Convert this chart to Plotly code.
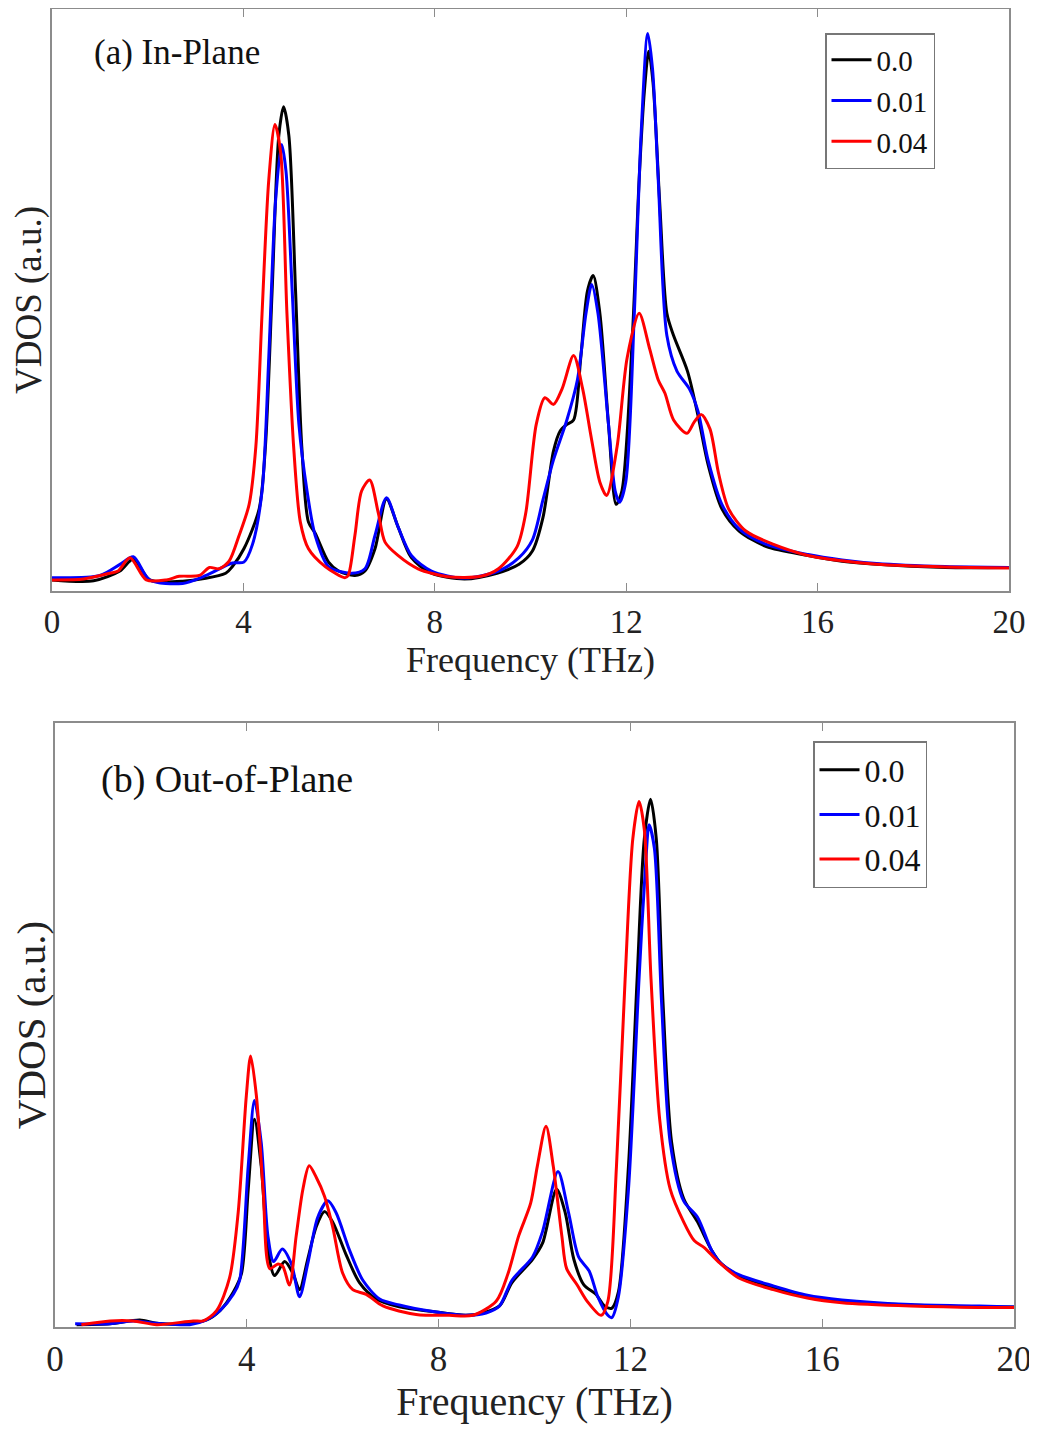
import plotly.graph_objects as go

# ---------------- Data: (a) In-Plane ----------------
a_f_00 = [0, 0.87, 1.42, 1.7, 2.04, 2.73, 3.63, 3.77, 4.01, 4.33, 4.46, 4.6, 4.74, 4.84, 4.95, 5.09, 5.22, 5.36,
          5.5, 5.78, 5.99, 6.33, 6.54, 6.75, 6.99, 7.23, 7.51, 7.93, 8.62, 9.3, 9.76, 10.04, 10.26, 10.48, 10.62,
          10.76, 10.9, 11.05, 11.19, 11.31, 11.45, 11.63, 11.79, 11.91, 12.13, 12.27, 12.38, 12.47, 12.56, 12.7,
          12.85, 12.99, 13.28, 13.5, 13.71, 14.0, 14.36, 14.93, 15.8, 16.51, 17.23, 18.67, 20]
a_v_00 = [25, 23, 45, 72, 25, 22, 40, 55, 95, 185, 325, 675, 1025, 1090, 1025, 675, 325, 155,
          130, 65, 45, 35, 45, 95, 207, 145, 75, 40, 27, 40, 60, 90, 165, 315, 360,
          375, 385, 525, 675, 710, 625, 375, 195, 225, 575, 925, 1125, 1215, 1145, 875,
          625, 575, 495, 395, 285, 185, 135, 100, 80, 67, 60, 53, 53]

a_f_01 = [0, 1.0, 1.42, 1.7, 2.04, 2.73, 3.22, 3.77, 4.01, 4.19, 4.39, 4.53, 4.67, 4.8, 4.89, 5.02, 5.16, 5.33,
          5.5, 5.78, 6.26, 6.54, 6.75, 6.99, 7.23, 7.51, 7.93, 8.62, 9.33, 9.76, 10.04, 10.26, 10.48, 10.76,
          10.98, 11.16, 11.28, 11.41, 11.63, 11.77, 11.86, 11.99, 12.17, 12.31, 12.45, 12.55, 12.67, 12.85,
          13.06, 13.32, 13.5, 13.71, 14.0, 14.36, 14.93, 15.8, 16.51, 17.23, 18.67, 20]
a_v_01 = [30, 35, 60, 77, 25, 17, 35, 63, 65, 105, 225, 525, 875, 1005, 945, 675, 375, 225,
          125, 55, 40, 50, 125, 210, 145, 80, 45, 29, 45, 75, 115, 205, 295, 385,
          475, 625, 690, 625, 375, 225, 200, 245, 625, 1025, 1255, 1175, 925, 575,
          495, 455, 405, 295, 195, 140, 105, 82, 70, 62, 55, 53]

a_f_04 = [0, 0.66, 1.21, 1.38, 1.63, 1.97, 2.39, 2.66, 3.08, 3.29, 3.49, 3.7, 3.91, 4.12, 4.26, 4.39, 4.53,
          4.66, 4.78, 4.91, 5.05, 5.19, 5.36, 5.71, 6.12, 6.19, 6.33, 6.47, 6.64, 6.82, 6.96, 7.23, 7.65, 8.27,
          8.96, 9.33, 9.72, 9.9, 10.12, 10.3, 10.48, 10.66, 10.9, 11.09, 11.27, 11.45, 11.59, 11.81, 12.02,
          12.27, 12.49, 12.67, 12.81, 12.99, 13.27, 13.42, 13.57, 13.75, 13.93, 14.14, 14.5, 15.08, 15.8,
          16.51, 17.23, 18.67, 20]
a_v_04 = [25, 27, 40, 45, 75, 25, 25, 33, 35, 53, 50, 67, 125, 195, 325, 625, 925,
          1050, 985, 625, 325, 155, 95, 55, 30, 35, 125, 225, 250, 175, 110, 80, 50, 32,
          33, 50, 100, 175, 375, 435, 420, 455, 530, 455, 345, 245, 215, 325, 525,
          625, 545, 475, 445, 385, 355, 380, 397, 365, 265, 185, 135, 105, 80,
          68, 60, 54, 52]

# ---------------- Data: (b) Out-of-Plane ----------------
b_f_00 = [0.45, 1.15, 1.77, 2.12, 2.74, 3.16, 3.44, 3.72, 3.89, 4.03, 4.16, 4.3, 4.44, 4.58, 4.79, 4.96, 5.1,
          5.27, 5.45, 5.62, 5.79, 6.07, 6.35, 6.7, 7.18, 7.88, 8.57, 8.92, 9.27, 9.53, 9.96, 10.17, 10.46,
          10.64, 10.82, 11.03, 11.28, 11.46, 11.61, 11.75, 11.96, 12.14, 12.29, 12.42, 12.54, 12.68, 12.86,
          13.11, 13.4, 13.69, 13.9, 14.26, 14.98, 15.69, 16.41, 17.85, 19.28, 20]
b_v_00 = [5, 7, 15, 8, 7, 15, 35, 75, 115, 295, 445, 345, 165, 110, 140, 115, 80,
          145, 215, 247, 225, 155, 95, 60, 43, 33, 25, 30, 45, 95, 145, 180, 295,
          245, 145, 90, 70, 45, 40, 75, 345, 745, 1045, 1130, 1045, 695, 395,
          275, 225, 165, 135, 110, 85, 65, 55, 47, 43, 43]

b_f_01 = [0.42, 1.15, 1.63, 2.12, 2.81, 3.16, 3.44, 3.72, 3.85, 4.03, 4.16, 4.3, 4.44, 4.56, 4.74, 4.93, 5.1,
          5.27, 5.48, 5.69, 5.86, 6.14, 6.42, 6.77, 7.18, 7.88, 8.57, 8.99, 9.27, 9.53, 9.96, 10.17, 10.49,
          10.71, 10.92, 11.14, 11.32, 11.53, 11.61, 11.75, 11.96, 12.18, 12.32, 12.39, 12.5, 12.65, 12.83,
          13.11, 13.4, 13.69, 13.9, 14.26, 14.98, 15.69, 16.41, 17.85, 19.28, 20]
b_v_01 = [7, 7, 13, 8, 5, 15, 35, 70, 100, 345, 485, 395, 195, 140, 167, 135, 65,
          135, 235, 270, 245, 165, 100, 60, 47, 33, 25, 30, 45, 100, 150, 205, 333,
          245, 150, 120, 65, 25, 20, 65, 295, 745, 995, 1075, 1025, 695, 395,
          270, 235, 165, 135, 112, 88, 68, 58, 48, 45, 43]

b_f_04 = [0.55, 1.15, 1.63, 2.12, 2.88, 3.09, 3.37, 3.64, 3.82, 3.99, 4.08, 4.2, 4.34, 4.48, 4.65, 4.75, 4.89,
          5.03, 5.17, 5.3, 5.45, 5.62, 5.79, 6.0, 6.21, 6.49, 6.84, 7.53, 8.22, 8.71, 9.2, 9.45, 9.67, 9.92,
          10.06, 10.24, 10.39, 10.57, 10.67, 10.89, 11.1, 11.39, 11.53, 11.71, 11.89, 12.05, 12.18, 12.29,
          12.43, 12.61, 12.83, 13.11, 13.33, 13.54, 13.83, 14.26, 14.98, 15.69, 16.41, 17.85, 19.28, 20]
b_v_04 = [5, 13, 13, 5, 13, 13, 35, 105, 245, 495, 580, 495, 295, 125, 135, 130, 90,
          195, 295, 345, 320, 280, 215, 115, 80, 70, 45, 27, 25, 25, 55, 115, 195, 265,
          345, 430, 345, 195, 125, 90, 55, 25, 55, 345, 745, 1045, 1125, 1065,
          745, 445, 295, 225, 185, 170, 140, 105, 80, 62, 52, 45, 42, 42]

series_names = ["0.0", "0.01", "0.04"]
series_colors = ["#000000", "#0000ff", "#ff0000"]
x_ticks = [0, 4, 8, 12, 16, 20]
panel_labels = ["(a) In-Plane", "(b) Out-of-Plane"]

# page has an 8px body margin; figure is sized/offset so the result matches the 1037x1431 target
OFF = 8
W, H = 1037 - OFF, 1431 - OFF
FONT = "Liberation Serif, Times New Roman, serif"


def px_x(p):
    return min(1.0, max(0.0, (p - OFF) / W))


def px_y(p):
    return min(1.0, max(0.0, 1 - (p - OFF) / H))


fig = go.Figure()

panel_a = [(a_f_00, a_v_00), (a_f_01, a_v_01), (a_f_04, a_v_04)]
panel_b = [(b_f_00, b_v_00), (b_f_01, b_v_01), (b_f_04, b_v_04)]

for (fx, fv), name, col in zip(panel_a, series_names, series_colors):
    fig.add_trace(go.Scatter(x=fx, y=fv, mode="lines", name=name, xaxis="x", yaxis="y",
                             line=dict(color=col, width=3, shape="spline", smoothing=0.8),
                             legend="legend"))
for (fx, fv), name, col in zip(panel_b, series_names, series_colors):
    fig.add_trace(go.Scatter(x=fx, y=fv, mode="lines", name=name, xaxis="x2", yaxis="y2",
                             line=dict(color=col, width=3, shape="spline", smoothing=0.8),
                             legend="legend2"))

axcol = "#8c8c8c"


def xax(domain, tick_size, title_size, lab_standoff, standoff):
    return dict(domain=domain, range=[0, 20], tickvals=x_ticks, ticks="inside", ticklen=8,
                tickcolor=axcol, showline=True, linecolor=axcol, linewidth=1.5, mirror="ticks",
                showgrid=False, zeroline=False, ticklabelstandoff=lab_standoff, automargin=False,
                tickfont=dict(family=FONT, size=tick_size, color="#222222"),
                title=dict(text="Frequency (THz)", font=dict(family=FONT, size=title_size, color="#222222"),
                           standoff=standoff))


def yax(domain, rng, title_size, anchor, standoff):
    return dict(domain=domain, range=rng, showticklabels=False, ticks="", showline=True,
                linecolor=axcol, linewidth=1.5, mirror=True, showgrid=False, zeroline=False,
                anchor=anchor, automargin=False,
                title=dict(text="VDOS (a.u.)", font=dict(family=FONT, size=title_size, color="#222222"),
                           standoff=standoff))


fig.update_layout(
    width=W, height=H, margin=dict(l=0, r=0, t=0, b=0, autoexpand=False),
    paper_bgcolor="white", plot_bgcolor="white",
    xaxis=dict(**xax([px_x(52), px_x(1009)], 33, 36, 1, 2), anchor="y"),
    yaxis=yax([px_y(591), px_y(9)], [0, 1310], 37, "x", 0),
    xaxis2=dict(**xax([px_x(55), px_x(1014)], 35, 40, 0, 9), anchor="y2"),
    yaxis2=yax([px_y(1327), px_y(723)], [0, 1293], 41, "x2", 2),
    legend=dict(x=px_x(825), y=px_y(33), xanchor="left", yanchor="top", bgcolor="white",
                bordercolor="#777777", borderwidth=1.5, font=dict(family=FONT, size=29, color="#111111"),
                tracegroupgap=0, itemwidth=40),
    legend2=dict(x=px_x(813), y=px_y(741), xanchor="left", yanchor="top", bgcolor="white",
                 bordercolor="#777777", borderwidth=1.5, font=dict(family=FONT, size=32, color="#111111"),
                 tracegroupgap=0, itemwidth=40),
    showlegend=True,
)

fig.add_annotation(text=panel_labels[0], xref="x domain", yref="y domain", x=0.042, y=0.926,
                   xanchor="left", yanchor="middle", showarrow=False,
                   font=dict(family=FONT, size=35, color="#111111"))
fig.add_annotation(text=panel_labels[1], xref="x2 domain", yref="y2 domain", x=0.046, y=0.906,
                   xanchor="left", yanchor="middle", showarrow=False,
                   font=dict(family=FONT, size=38, color="#111111"))

fig.write_html("out.html")
